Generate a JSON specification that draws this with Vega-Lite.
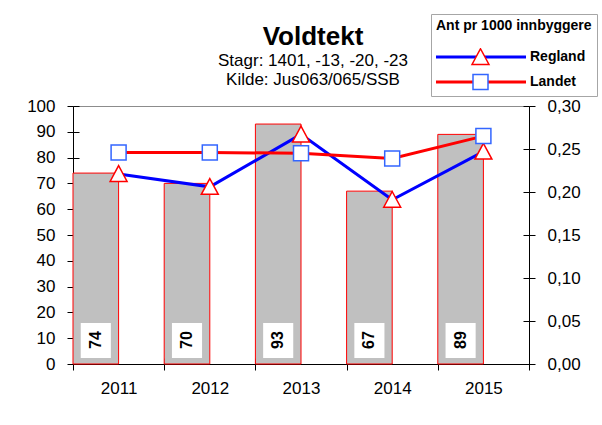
{
  "$schema": "https://vega.github.io/schema/vega-lite/v6.json",
  "width": 456,
  "height": 258,
  "autosize": {"type": "none"},
  "padding": {"left": 73, "top": 106, "right": 73, "bottom": 61},
  "config": {
    "font": "Liberation Sans",
    "view": {"stroke": "#8c8c8c", "strokeWidth": 1},
    "axis": {"grid": false, "title": null, "domainColor": "black", "tickColor": "black", "labelColor": "black", "labelFontSize": 17, "labelFont": "Liberation Sans", "domainWidth": 1, "tickWidth": 1}
  },
  "title": {
    "text": "Voldtekt",
    "subtitle": ["Stagr: 1401, -13, -20, -23", "Kilde: Jus063/065/SSB"],
    "fontSize": 26,
    "fontWeight": "bold",
    "font": "Liberation Sans",
    "subtitleFont": "Liberation Sans",
    "subtitleFontSize": 17,
    "subtitleLineHeight": 19,
    "subtitlePadding": 3,
    "color": "black",
    "subtitleColor": "black",
    "anchor": "middle",
    "frame": "group",
    "dx": 12,
    "offset": -74
  },
  "datasets": {
    "counts": [
      {"year": "2011", "antall": 74},
      {"year": "2012", "antall": 70},
      {"year": "2013", "antall": 93},
      {"year": "2014", "antall": 67},
      {"year": "2015", "antall": 89}
    ],
    "rates": [
      {"year": "2011", "serie": "Regland", "rate": 0.221},
      {"year": "2012", "serie": "Regland", "rate": 0.206},
      {"year": "2013", "serie": "Regland", "rate": 0.267},
      {"year": "2014", "serie": "Regland", "rate": 0.191},
      {"year": "2015", "serie": "Regland", "rate": 0.247},
      {"year": "2011", "serie": "Landet", "rate": 0.246},
      {"year": "2012", "serie": "Landet", "rate": 0.246},
      {"year": "2013", "serie": "Landet", "rate": 0.245},
      {"year": "2014", "serie": "Landet", "rate": 0.239},
      {"year": "2015", "serie": "Landet", "rate": 0.265}
    ]
  },
  "layer": [
    {
      "data": {"name": "counts"},
      "layer": [
        {
          "mark": {"type": "bar", "fill": "#c0c0c0", "stroke": "#ff0000", "strokeWidth": 1},
          "encoding": {
            "x": {"field": "year", "type": "ordinal", "bandPosition": 0,
                  "scale": {"type": "band", "paddingInner": 0, "paddingOuter": 0},
                  "axis": {"orient": "bottom", "labelAngle": 0, "tickBand": "extent", "tickSize": 6, "labelPadding": 10}},
            "x2": {"field": "year", "bandPosition": 0.5},
            "y": {"field": "antall", "type": "quantitative",
                  "scale": {"domain": [0, 100], "nice": false},
                  "axis": {"orient": "left", "values": [0, 10, 20, 30, 40, 50, 60, 70, 80, 90, 100], "tickSize": 6, "labelPadding": 12}},
            "y2": {"datum": 0}
          }
        },
        {
          "mark": {"type": "rect", "fill": "white"},
          "encoding": {
            "x": {"field": "year", "type": "ordinal", "bandPosition": 0.085, "axis": null},
            "x2": {"field": "year", "bandPosition": 0.415},
            "y": {"datum": 2.3, "type": "quantitative",
                  "axis": {"orient": "left", "values": [0, 10, 20, 30, 40, 50, 60, 70, 80, 90, 100], "tickSize": -6, "labels": false, "domain": false}},
            "y2": {"datum": 15.9}
          }
        },
        {
          "mark": {"type": "text", "angle": 270, "fontWeight": "bold", "fontSize": 16, "align": "center", "baseline": "middle", "color": "black"},
          "encoding": {
            "x": {"field": "year", "type": "ordinal", "bandPosition": 0.25,
                  "axis": {"orient": "bottom", "tickBand": "extent", "tickSize": -6, "labels": false, "domain": false}},
            "y": {"datum": 9.3, "type": "quantitative", "axis": null},
            "text": {"field": "antall", "type": "quantitative"}
          }
        }
      ],
      "resolve": {"axis": {"x": "independent", "y": "independent"}}
    },
    {
      "data": {"name": "rates"},
      "layer": [
        {
          "mark": {"type": "line", "strokeWidth": 3},
          "encoding": {
            "x": {"field": "year", "type": "ordinal", "axis": null},
            "y": {"field": "rate", "type": "quantitative",
                  "scale": {"domain": [0, 0.3], "nice": false},
                  "axis": {"orient": "right", "values": [0, 0.05, 0.1, 0.15, 0.2, 0.25, 0.3], "tickSize": 6, "labelPadding": 12,
                           "labelExpr": "replace(format(datum.value, '.2f'), '.', ',')"}},
            "stroke": {"field": "serie", "type": "nominal",
                       "scale": {"domain": ["Regland", "Landet"], "range": ["#0000ff", "#ff0000"]},
                       "legend": {"title": "Ant pr 1000 innbyggere", "orient": "none", "legendX": 358, "legendY": -92,
                                  "symbolType": "M-6,0H6", "symbolSize": 225, "symbolStrokeWidth": 3,
                                  "symbolOffset": 36, "labelOffset": 40, "clipHeight": 18, "rowPadding": 7,
                                  "titlePadding": 15, "padding": 5, "strokeColor": "#a6a6a6",
                                  "titleFontSize": 14, "titleFontWeight": "bold", "titleColor": "black",
                                  "labelFontSize": 14, "labelFontWeight": "bold", "labelColor": "black"}}
          }
        },
        {
          "transform": [{"filter": "datum.serie === 'Regland'"}],
          "mark": {"type": "point", "filled": true, "fill": "white", "stroke": "#ff0000", "strokeWidth": 1.5, "size": 225, "opacity": 1},
          "encoding": {
            "x": {"field": "year", "type": "ordinal", "axis": null},
            "y": {"field": "rate", "type": "quantitative",
                  "axis": {"orient": "right", "values": [0, 0.05, 0.1, 0.15, 0.2, 0.25, 0.3], "tickSize": -6, "labels": false, "domain": false}},
            "shape": {"field": "serie", "type": "nominal",
                      "scale": {"domain": ["Regland"], "range": ["M0,-1.1L1.13,1L-1.13,1Z"]},
                      "legend": {"title": " ", "orient": "none", "legendX": 358, "legendY": -92,
                                 "symbolSize": 225, "symbolStrokeWidth": 1.5,
                                 "symbolOffset": 36, "labelOffset": 40, "clipHeight": 18, "rowPadding": 7,
                                 "titlePadding": 15, "padding": 5, "labelExpr": "''",
                                 "titleFontSize": 14, "titleFontWeight": "bold",
                                 "labelFontSize": 14, "labelFontWeight": "bold",
                                 "encode": {"symbols": {"stroke": {"value": "#ff0000"}, "fill": {"value": "white"}, "strokeWidth": {"value": 1.5}}}}}
          }
        },
        {
          "transform": [{"filter": "datum.serie === 'Landet'"}],
          "mark": {"type": "point", "filled": true, "fill": "white", "stroke": "#3366ff", "strokeWidth": 1.5, "size": 225, "opacity": 1},
          "encoding": {
            "x": {"field": "year", "type": "ordinal", "axis": null},
            "y": {"field": "rate", "type": "quantitative", "axis": null},
            "shape": {"field": "serie", "type": "nominal",
                      "scale": {"domain": ["Landet"], "range": ["square"]},
                      "legend": {"title": " ", "orient": "none", "legendX": 358, "legendY": -67,
                                 "symbolSize": 225, "symbolStrokeWidth": 1.5,
                                 "symbolOffset": 36, "labelOffset": 40, "clipHeight": 18, "rowPadding": 7,
                                 "titlePadding": 15, "padding": 5, "labelExpr": "''",
                                 "titleFontSize": 14, "titleFontWeight": "bold",
                                 "labelFontSize": 14, "labelFontWeight": "bold",
                                 "encode": {"symbols": {"stroke": {"value": "#3366ff"}, "fill": {"value": "white"}, "strokeWidth": {"value": 1.5}}}}}
          }
        }
      ],
      "resolve": {"axis": {"y": "independent"}, "scale": {"shape": "independent"}, "legend": {"shape": "independent"}}
    }
  ],
  "resolve": {"scale": {"y": "independent", "shape": "independent"}, "axis": {"y": "independent"}}
}
